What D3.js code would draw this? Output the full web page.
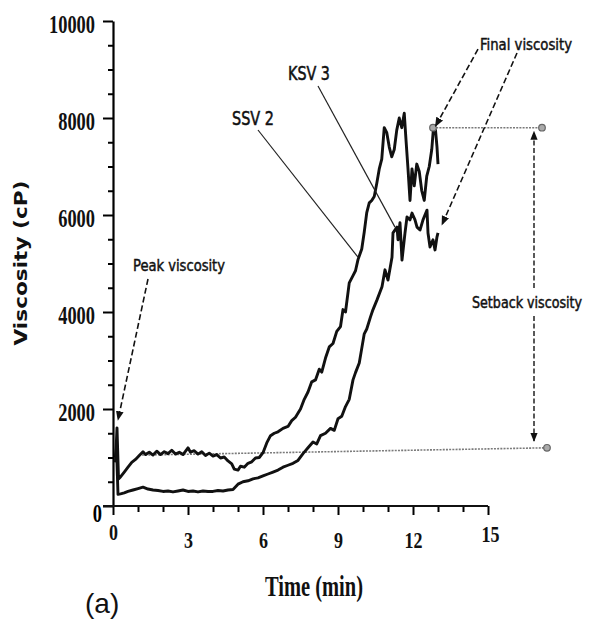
<!DOCTYPE html>
<html>
<head>
<meta charset="utf-8">
<script src="https://cdn.jsdelivr.net/npm/d3@7"></script>
<style>
body { margin: 0; background: #fff; }
svg { display: block; }
</style>
</head>
<body>
<div id="viz"></div>
<script>
// SSV 2 (upper curve) - time in min, viscosity in cP
var ssvTime = [0.10, 0.16, 0.22, 0.30, 0.45, 0.60, 0.75, 0.90, 1.05, 1.20, 1.30, 1.45, 1.60, 1.75, 1.90, 2.05, 2.20, 2.35, 2.50, 2.65, 2.80, 3.00, 3.10, 3.25, 3.40, 3.55, 3.70, 3.85, 4.00, 4.15, 4.30, 4.45, 4.60, 4.75, 4.85, 5.00, 5.10, 5.25, 5.40, 5.55, 5.70, 5.85, 6.00, 6.15, 6.30, 6.45, 6.60, 6.80, 7.00, 7.15, 7.30, 7.50, 7.65, 7.80, 7.95, 8.10, 8.25, 8.35, 8.50, 8.65, 8.80, 8.95, 9.10, 9.20, 9.30, 9.45, 9.60, 9.70, 9.80, 9.95, 10.05, 10.15, 10.25, 10.35, 10.45, 10.55, 10.65, 10.75, 10.85, 10.95, 11.05, 11.15, 11.25, 11.35, 11.45, 11.55, 11.65, 11.72, 11.80, 11.88, 11.96, 12.05, 12.15, 12.25, 12.35, 12.45, 12.55, 12.65, 12.75, 12.82, 12.90, 12.96, 13.00];
var ssvVisc = [900, 1610, 560, 600, 700, 800, 900, 960, 1040, 1120, 1060, 1110, 1050, 1130, 1060, 1120, 1080, 1150, 1070, 1110, 1060, 1200, 1110, 1140, 1070, 1120, 1040, 1090, 1030, 1060, 990, 1010, 930, 870, 760, 740, 820, 800, 880, 910, 990, 1000, 1100, 1300, 1450, 1500, 1530, 1600, 1640, 1760, 1830, 2000, 2200, 2350, 2560, 2600, 2820, 2760, 3050, 3280, 3350, 3600, 3700, 4050, 4000, 4600, 4750, 4850, 5080, 5300, 5650, 6050, 6250, 6300, 6380, 6650, 6950, 7150, 7800, 7700, 7400, 7200, 7350, 7750, 8000, 7800, 8100, 7550, 6950, 6300, 6950, 6600, 7050, 6900, 6500, 6300, 6800, 7000, 7350, 7800, 7750, 7400, 7050];

// KSV 3 (lower curve)
var ksvTime = [0.10, 0.14, 0.20, 0.30, 0.45, 0.60, 0.80, 1.00, 1.20, 1.40, 1.60, 1.80, 2.00, 2.20, 2.40, 2.60, 2.80, 3.00, 3.20, 3.40, 3.60, 3.80, 4.00, 4.20, 4.40, 4.60, 4.80, 5.00, 5.20, 5.40, 5.60, 5.80, 6.00, 6.20, 6.40, 6.60, 6.80, 7.00, 7.20, 7.40, 7.60, 7.80, 8.00, 8.15, 8.30, 8.50, 8.70, 8.85, 9.00, 9.15, 9.30, 9.45, 9.60, 9.70, 9.85, 9.95, 10.05, 10.15, 10.30, 10.40, 10.56, 10.76, 10.88, 11.00, 11.16, 11.20, 11.36, 11.40, 11.48, 11.56, 11.68, 11.76, 11.88, 11.96, 12.08, 12.16, 12.28, 12.40, 12.56, 12.60, 12.68, 12.80, 12.88, 12.96, 13.00];
var ksvVisc = [1000, 1200, 240, 250, 270, 300, 330, 360, 390, 350, 330, 320, 300, 310, 290, 310, 330, 300, 310, 290, 310, 300, 300, 320, 310, 330, 340, 450, 500, 520, 560, 580, 620, 660, 700, 740, 800, 840, 880, 940, 1080, 1200, 1320, 1280, 1450, 1500, 1600, 1560, 1800, 1850, 2050, 2200, 2600, 2750, 2950, 3250, 3550, 3650, 3900, 4050, 4250, 4520, 4870, 4660, 5130, 5630, 5750, 5490, 5840, 5070, 5630, 5960, 5900, 6040, 5900, 5750, 5690, 5900, 6100, 5630, 5340, 5490, 5280, 5550, 5630];

var xTickValues = d3.range(0, 16, 1);
var xTickLabels = [0, 3, 6, 9, 12, 15];
var yTickValues = d3.range(0, 10001, 500);
var yTickLabels = [0, 2000, 4000, 6000, 8000, 10000];

var width = 590;
var height = 624;

var x = d3.scaleLinear().domain([0, 15]).range([113, 488]);
var y = d3.scaleLinear().domain([0, 10000]).range([506, 21]);

var svg = d3.select("#viz").append("svg").attr("width", width).attr("height", height);

svg.append("defs").append("marker")
    .attr("id", "arrow")
    .attr("viewBox", "0 0 10 10")
    .attr("refX", 9)
    .attr("refY", 5)
    .attr("markerWidth", 6)
    .attr("markerHeight", 6)
    .attr("orient", "auto-start-reverse")
    .append("path")
    .attr("d", "M0,1L10,5L0,9Z")
    .style("fill", "#111");

// dotted reference lines for final / setback viscosity
var grey = "#7a7a7a";
var refLines = [
    {t0: 1.16, v0: 1050, t1: 17.36, v1: 1200},
    {t0: 12.8, v0: 7800, t1: 17.16, v1: 7800}
];
svg.append("g").selectAll("line")
    .data(refLines)
    .enter()
    .append("line")
    .attr("x1", function (d) { return x(d.t0) })
    .attr("y1", function (d) { return y(d.v0) })
    .attr("x2", function (d) { return x(d.t1) })
    .attr("y2", function (d) { return y(d.v1) })
    .attr("stroke", grey)
    .attr("stroke-width", 1.6)
    .attr("stroke-dasharray", "2,1.2");

// curves
var line = d3.line()
    .x(function (d) { return x(d[0]) })
    .y(function (d) { return y(d[1]) });

var ssv = ssvTime.map(function (t, i) { return [t, ssvVisc[i]] });
var ksv = ksvTime.map(function (t, i) { return [t, ksvVisc[i]] });

svg.append("g").selectAll("path")
    .data([ksv, ssv])
    .enter()
    .append("path")
    .attr("d", line)
    .attr("fill", "none")
    .attr("stroke", "#111")
    .attr("stroke-width", 2.9)
    .attr("stroke-linejoin", "round");

// grey end dots
svg.append("g").selectAll("circle")
    .data([[12.8, 7800], [17.16, 7800], [17.36, 1200]])
    .enter()
    .append("circle")
    .attr("cx", function (d) { return x(d[0]) })
    .attr("cy", function (d) { return y(d[1]) })
    .attr("r", 3.3)
    .style("fill", "#aaa")
    .attr("stroke", "#666")
    .attr("stroke-width", 1.2);

// axes
var yAxis = d3.axisLeft(y)
    .tickValues(yTickValues)
    .tickSizeOuter(0)
    .tickFormat(function (d) { return yTickLabels.indexOf(d) >= 0 && d > 0 ? d : "" });

var gy = svg.append("g").attr("transform", "translate(" + x(0) + ",0)").call(yAxis);
gy.select(".domain").attr("stroke-width", 2.2);
gy.selectAll(".tick line")
    .attr("x2", function (d) { return d % 2000 === 0 ? -10 : -5 })
    .attr("stroke-width", 2);
gy.selectAll(".tick text")
    .attr("x", -18)
    .attr("dy", 11)
    .style("font-family", "'Liberation Serif', serif")
    .style("font-weight", "bold")
    .style("font-size", "25px")
    .attr("textLength", function (d) { return d > 0 ? String(d).length * 9.2 : null })
    .attr("lengthAdjust", "spacingAndGlyphs")
    .attr("fill", "#111");

// y "0" sits low and close to the axis
svg.append("text")
    .attr("x", x(0) - 11)
    .attr("y", y(0) + 16)
    .attr("text-anchor", "end")
    .style("font-family", "'Liberation Serif', serif")
    .style("font-weight", "bold")
    .style("font-size", "25px")
    .attr("textLength", 9.2)
    .attr("lengthAdjust", "spacingAndGlyphs")
    .text(yTickLabels[0]);

var xAxis = d3.axisBottom(x)
    .tickValues(xTickValues)
    .tickSizeOuter(0)
    .tickFormat(function (d) { return xTickLabels.indexOf(d) >= 0 ? d : "" });

var gx = svg.append("g").attr("transform", "translate(0," + y(0) + ")").call(xAxis);
gx.select(".domain").remove();
gx.append("line")
    .attr("x1", x(0) - 10)
    .attr("x2", x(15))
    .attr("stroke", "#111")
    .attr("stroke-width", 2.2);
gx.selectAll(".tick line")
    .attr("y2", function (d) { return d % 3 === 0 ? 9 : 6 })
    .attr("stroke-width", 2);
gx.selectAll(".tick text")
    .attr("y", function (d) { return d === 0 ? 34 : (d === 15 ? 36 : 42) })
    .attr("dy", 0)
    .attr("dx", function (d) { return d === 15 ? 2 : 0 })
    .style("font-family", "'Liberation Serif', serif")
    .style("font-weight", "bold")
    .style("font-size", "23px")
    .attr("textLength", function (d) { return String(d).length * 9 })
    .attr("lengthAdjust", "spacingAndGlyphs")
    .attr("fill", "#111");

// axis titles
svg.append("text")
    .attr("transform", "translate(27,263) rotate(-90)")
    .attr("text-anchor", "middle")
    .style("font-family", "'DejaVu Sans', sans-serif")
    .style("font-weight", "bold")
    .style("font-size", "18px")
    .attr("textLength", 165)
    .attr("lengthAdjust", "spacingAndGlyphs")
    .attr("fill", "#111")
    .text("Viscosity (cP)");

svg.append("text")
    .attr("x", 314)
    .attr("y", 596)
    .attr("text-anchor", "middle")
    .style("font-family", "'Liberation Serif', serif")
    .style("font-weight", "bold")
    .style("font-size", "30px")
    .attr("textLength", 98)
    .attr("lengthAdjust", "spacingAndGlyphs")
    .attr("fill", "#111")
    .text("Time (min)");

svg.append("text")
    .attr("x", 85)
    .attr("y", 613)
    .style("font-family", "'Liberation Sans', Arial, sans-serif")
    .style("font-size", "28px")
    .attr("fill", "#111")
    .text("(a)");

// leader lines for curve names
var leaders = [
    {label: "SSV 2", lx: 232, ly: 125, w: 42, x1: 258, y1: 130, t: 9.8, v: 5130},
    {label: "KSV 3", lx: 288, ly: 80, w: 42, x1: 318, y1: 86, t: 11.28, v: 5750}
];
svg.append("g").selectAll("line")
    .data(leaders)
    .enter()
    .append("line")
    .attr("x1", function (d) { return d.x1 })
    .attr("y1", function (d) { return d.y1 })
    .attr("x2", function (d) { return x(d.t) })
    .attr("y2", function (d) { return y(d.v) })
    .attr("stroke", "#222")
    .attr("stroke-width", 1.2);

var annoFont = "'Liberation Sans Narrow', 'DejaVu Sans Condensed', 'Liberation Sans', sans-serif";
svg.append("g").selectAll("text")
    .data(leaders)
    .enter()
    .append("text")
    .attr("x", function (d) { return d.lx })
    .attr("y", function (d) { return d.ly })
    .style("font-family", annoFont)
    .style("font-size", "19px")
    .attr("textLength", function (d) { return d.w })
    .attr("lengthAdjust", "spacingAndGlyphs")
    .attr("fill", "#111")
    .attr("stroke", "#111")
    .attr("stroke-width", 0.5)
    .text(function (d) { return d.label });

// dashed arrows
var arrows = [
    {t0: 1.4, v0: 4680, t1: 0.2, v1: 1775},
    {t0: 14.6, v0: 9420, t1: 12.9, v1: 7830},
    {t0: 16.16, v0: 9340, t1: 13.16, v1: 5800}
];
svg.append("g").selectAll("line")
    .data(arrows)
    .enter()
    .append("line")
    .attr("x1", function (d) { return x(d.t0) })
    .attr("y1", function (d) { return y(d.v0) })
    .attr("x2", function (d) { return x(d.t1) })
    .attr("y2", function (d) { return y(d.v1) })
    .attr("stroke", "#111")
    .attr("stroke-width", 1.6)
    .attr("stroke-dasharray", "6,3")
    .attr("marker-end", "url(#arrow)");

// setback double arrow, broken by its label
var sbT = 16.84;
svg.append("line")
    .attr("x1", x(sbT)).attr("y1", 288)
    .attr("x2", x(sbT)).attr("y2", y(7720))
    .attr("stroke", "#222")
    .attr("stroke-width", 1.5)
    .attr("stroke-dasharray", "5,2.5")
    .attr("marker-end", "url(#arrow)");
svg.append("line")
    .attr("x1", x(sbT)).attr("y1", 316)
    .attr("x2", x(sbT)).attr("y2", y(1340))
    .attr("stroke", "#222")
    .attr("stroke-width", 1.5)
    .attr("stroke-dasharray", "5,2.5")
    .attr("marker-end", "url(#arrow)");

var notes = [
    {label: "Peak viscosity", lx: 133, ly: 271, w: 92, fs: 16},
    {label: "Final viscosity", lx: 480, ly: 50, w: 92, fs: 16},
    {label: "Setback viscosity", lx: 472, ly: 308, w: 110, fs: 15}
];
svg.append("g").selectAll("text")
    .data(notes)
    .enter()
    .append("text")
    .attr("x", function (d) { return d.lx })
    .attr("y", function (d) { return d.ly })
    .style("font-family", annoFont)
    .style("font-size", function (d) { return d.fs + "px" })
    .attr("textLength", function (d) { return d.w })
    .attr("lengthAdjust", "spacingAndGlyphs")
    .attr("fill", "#111")
    .attr("stroke", "#111")
    .attr("stroke-width", 0.45)
    .text(function (d) { return d.label });
</script>
</body>
</html>
